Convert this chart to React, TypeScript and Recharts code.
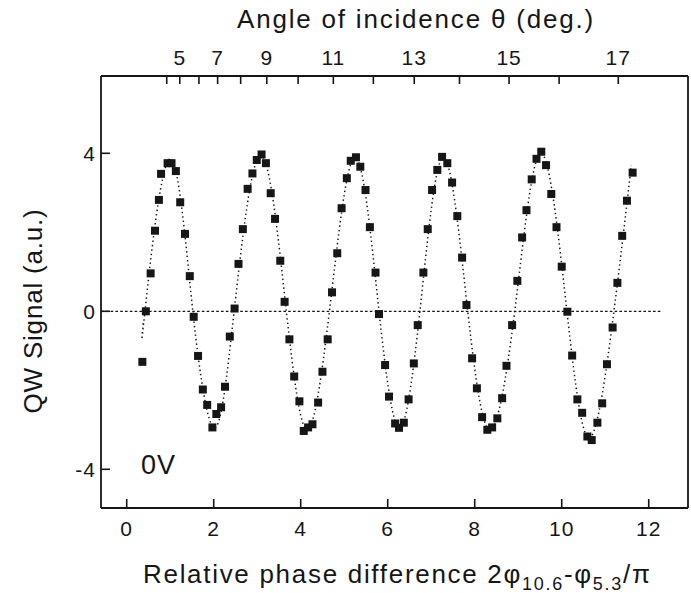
import {
  ComposedChart,
  Line,
  ReferenceDot,
  ReferenceLine,
  Scatter,
  XAxis,
  YAxis,
} from "recharts";

// measured QW signal vs relative phase
const phaseX = [
  0.36, 0.44, 0.55, 0.65, 0.74, 0.79, 0.94, 1.03, 1.13, 1.23, 1.34, 1.45, 1.54,
  1.64, 1.75, 1.85, 1.97, 2.06, 2.17, 2.26, 2.37, 2.48, 2.57, 2.67, 2.78, 2.89,
  2.99, 3.1, 3.2, 3.31, 3.41, 3.53, 3.63, 3.74, 3.85, 3.97, 4.07, 4.17, 4.27,
  4.4, 4.5, 4.62, 4.72, 4.84, 4.94, 5.06, 5.15, 5.27, 5.37, 5.49, 5.59, 5.72,
  5.8, 5.94, 6.03, 6.17, 6.26, 6.37, 6.48, 6.6, 6.69, 6.82, 6.92, 7.02, 7.14,
  7.25, 7.37, 7.48, 7.6, 7.71, 7.81, 7.94, 8.05, 8.17, 8.29, 8.4, 8.52, 8.63,
  8.73, 8.86, 8.98, 9.09, 9.19, 9.31, 9.42, 9.53, 9.64, 9.76, 9.88, 10.0,
  10.13, 10.24, 10.36, 10.47, 10.59, 10.69, 10.82, 10.93, 11.04, 11.17, 11.28,
  11.39, 11.5, 11.63,
];
const signalY = [
  -1.28, 0.0, 0.96, 2.04, 2.82, 3.48, 3.75, 3.75, 3.55, 2.76, 1.96, 0.89, -0.14,
  -1.13, -1.98, -2.37, -2.94, -2.6, -2.43, -1.91, -0.64, 0.07, 1.2, 2.08, 3.1,
  3.49, 3.83, 3.97, 3.75, 2.99, 2.34, 1.28, 0.24, -0.71, -1.65, -2.28, -3.03,
  -2.94, -2.86, -2.31, -1.53, -0.71, 0.48, 1.47, 2.61, 3.37, 3.81, 3.9, 3.66,
  3.07, 2.13, 0.98, -0.07, -1.36, -2.16, -2.84, -2.95, -2.82, -2.23, -1.32,
  -0.35, 0.98, 2.08, 3.07, 3.58, 3.91, 3.75, 3.26, 2.41, 1.36, 0.16, -1.19,
  -1.95, -2.68, -3.0, -2.94, -2.71, -2.2, -1.38, -0.35, 0.77, 1.87, 2.56, 3.34,
  3.86, 4.04, 3.7, 2.97, 2.13, 1.13, -0.01, -1.12, -2.23, -2.57, -3.17, -3.26,
  -2.82, -2.33, -1.34, -0.41, 0.72, 1.91, 2.8, 3.51,
];

// dotted fit curve, read at its zero crossings and extremes
const fitX = [
  0.38, 0.42, 0.98, 1.52, 2.02, 2.47, 3.08, 3.67, 4.15, 4.66, 5.25, 5.8, 6.27,
  6.74, 7.28, 7.84, 8.35, 8.92, 9.52, 10.12, 10.65, 11.2, 11.6,
];
const fitY = [
  -0.3, 0, 3.85, 0, -2.95, 0, 3.95, 0, -3.0, 0, 3.9, 0, -2.95, 0, 3.9, 0, -3.0,
  0, 4.0, 0, -3.2, 0, 3.7,
];

const phaseTicks = [0, 2, 4, 6, 8, 10, 12];
const signalTicks = [-4, 0, 4];
const angleTicks = [4, 5, 6, 7, 8, 9, 10, 11, 12, 13, 14, 15, 16, 17];
const anglePhase = [
  0.92, 1.22, 1.66, 2.09, 2.62, 3.22, 3.94, 4.75, 5.67, 6.61, 7.65, 8.79, 9.94,
  11.3,
];

const points = phaseX.map((x, i) => ({ x, y: signalY[i] }));
const fit = fitX.map((x, i) => ({ x, y: fitY[i] }));

const W = 691;
const H = 593;
const PLOT = { left: 101, right: 688, top: 76, bottom: 508 };
const X_DOMAIN: [number, number] = [-0.591, 12.903];
const Y_DOMAIN: [number, number] = [-4.98, 5.957];

const ink = "#161616";
const font = "'Liberation Sans', Arial, Helvetica, sans-serif";

const tickText = {
  fontFamily: font,
  fontSize: 21,
  letterSpacing: 1,
  fill: ink,
};

function BottomTick({ x, payload }: any) {
  return (
    <g>
      <line x1={x} x2={x} y1={PLOT.bottom} y2={PLOT.bottom - 9} stroke={ink} strokeWidth={1.6} />
      <text x={x} y={536} textAnchor="middle" {...tickText}>
        {payload.value}
      </text>
    </g>
  );
}

function TopTick({ x, index }: any) {
  const angle = angleTicks[index];
  return (
    <g>
      <line x1={x} x2={x} y1={PLOT.top} y2={PLOT.top + 8} stroke={ink} strokeWidth={1.6} />
      {angle % 2 === 1 && (
        <text x={x} y={65} textAnchor="middle" {...tickText}>
          {angle}
        </text>
      )}
    </g>
  );
}

function LeftTick({ y, payload }: any) {
  return (
    <g>
      <line x1={PLOT.left} x2={PLOT.left + 9} y1={y} y2={y} stroke={ink} strokeWidth={1.6} />
      <text x={96} y={y + 7.5} textAnchor="end" {...tickText}>
        {payload.value}
      </text>
    </g>
  );
}

const SquareDot = ({ cx, cy }: any) => (
  <rect x={cx - 4} y={cy - 4} width={8} height={8} fill={ink} />
);

const titleText = { fontFamily: font, fontSize: 26, fill: ink };

const TopTitle = ({ viewBox }: any) => (
  <text x={416} y={28} textAnchor="middle" {...titleText} letterSpacing={1.8}>
    Angle of incidence θ (deg.)
  </text>
);

const BottomTitle = () => (
  <text x={143} y={583} textAnchor="start" {...titleText} letterSpacing={1.7}>
    Relative phase difference 2φ
    <tspan fontSize={18} dy={7}>10.6</tspan>
    <tspan dy={-7}>-φ</tspan>
    <tspan fontSize={18} dy={7}>5.3</tspan>
    <tspan dy={-7}>/π</tspan>
  </text>
);

const LeftTitle = () => (
  <text
    x={41.5}
    y={311}
    transform="rotate(-90 41.5 311)"
    textAnchor="middle"
    {...titleText}
    letterSpacing={0.8}
  >
    QW Signal (a.u.)
  </text>
);

const VoltLabel = ({ cx, cy }: any) => (
  <text x={cx} y={cy} fontFamily={font} fontSize={27} fill={ink} letterSpacing={1}>
    0V
  </text>
);

export default function App() {
  return (
    <div style={{ position: "absolute", left: 0, top: 0, width: W, height: H, background: "#fff" }}>
      <ComposedChart
        width={W}
        height={H}
        margin={{ top: 0, right: W - PLOT.right, bottom: 0, left: 0 }}
      >
        <XAxis
          xAxisId="bottom"
          dataKey="x"
          type="number"
          orientation="bottom"
          domain={X_DOMAIN}
          allowDataOverflow
          ticks={phaseTicks}
          height={H - PLOT.bottom}
          axisLine={{ stroke: ink, strokeWidth: 1.8 }}
          tickLine={false}
          tick={<BottomTick />}
          label={<BottomTitle />}
        />
        <XAxis
          xAxisId="top"
          dataKey="x"
          type="number"
          orientation="top"
          domain={X_DOMAIN}
          allowDataOverflow
          ticks={anglePhase}
          interval={0}
          height={PLOT.top}
          axisLine={{ stroke: ink, strokeWidth: 1.8 }}
          tickLine={false}
          tick={<TopTick />}
          label={<TopTitle />}
        />
        <YAxis
          yAxisId="left"
          type="number"
          domain={Y_DOMAIN}
          allowDataOverflow
          ticks={signalTicks}
          width={PLOT.left}
          axisLine={{ stroke: ink, strokeWidth: 1.8 }}
          tickLine={false}
          tick={<LeftTick />}
          label={<LeftTitle />}
        />
        <ReferenceLine
          xAxisId="bottom"
          yAxisId="left"
          x={X_DOMAIN[1]}
          stroke={ink}
          strokeWidth={1.8}
          ifOverflow="visible"
        />
        <ReferenceLine
          xAxisId="bottom"
          yAxisId="left"
          segment={[
            { x: X_DOMAIN[0], y: 0 },
            { x: 12.32, y: 0 },
          ]}
          stroke={ink}
          strokeWidth={1.2}
          strokeDasharray="2.6 2.2"
        />
        <Line
          xAxisId="bottom"
          yAxisId="left"
          data={fit}
          dataKey="y"
          type="natural"
          stroke={ink}
          strokeWidth={1.5}
          strokeDasharray="1.4 3"
          dot={false}
          activeDot={false}
          isAnimationActive={false}
        />
        <Scatter
          xAxisId="bottom"
          yAxisId="left"
          data={points}
          dataKey="y"
          shape={<SquareDot />}
          isAnimationActive={false}
        />
        <ReferenceDot
          xAxisId="bottom"
          yAxisId="left"
          x={0.33}
          y={-4.12}
          r={1}
          shape={<VoltLabel />}
        />
      </ComposedChart>
    </div>
  );
}
